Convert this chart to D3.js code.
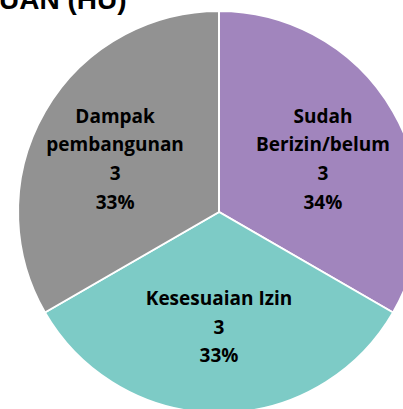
<!DOCTYPE html>
<html>
<head>
<meta charset="utf-8">
<script src="https://cdn.jsdelivr.net/npm/d3@7"></script>
<style>
  body { margin: 0; background: #fff; }
  svg { display: block; }
</style>
</head>
<body>
<div id="chart"></div>
<script>
const categories = ['Sudah Berizin/belum', 'Kesesuaian Izin', 'Dampak pembangunan']
const labelLines = [['Sudah', 'Berizin/belum'], ['Kesesuaian Izin'], ['Dampak', 'pembangunan']]
const values = [3, 3, 3]
const percents = ['34%', '33%', '33%']
const colors = ['#A185BD', '#7DCBC6', '#929292']

const W = 403, H = 409
const cx = 219, cy = 212, r = 201

const svg = d3.select('#chart').append('svg')
  .attr('width', W)
  .attr('height', H)

// title, mostly cut off at the top
svg.append('text')
  .attr('x', -1)
  .attr('y', 9)
  .attr('font-family', 'Liberation Sans, Arial, sans-serif')
  .attr('font-weight', 'bold')
  .attr('font-size', '28px')
  .attr('fill', '#000')
  .text('UAN (HU)')

const g = svg.append('g').attr('transform', `translate(${cx},${cy})`)

const pie = d3.pie().sort(null).value(d => d)
const arcs = pie(values)
const arc = d3.arc().innerRadius(0).outerRadius(r)
// unit arc, stretched a bit wider than tall for the label spots
const labelArc = d3.arc().innerRadius(1).outerRadius(1)

g.selectAll('path')
  .data(arcs)
  .join('path')
  .attr('d', arc)
  .attr('fill', (d, i) => colors[i])
  .attr('stroke', '#fff')
  .attr('stroke-width', 2)

const lh = 28.6
arcs.forEach((a, i) => {
  const lines = [...labelLines[i], String(values[i]), percents[i]]
  const [ux, uy] = labelArc.centroid(a)
  const lx = ux * 120, ly = uy * 112 + 3
  const top = ly - (lines.length - 1) * lh / 2
  const t = g.append('text')
    .attr('text-anchor', 'middle')
    .attr('font-family', 'Open Sans, sans-serif')
    .attr('font-weight', 'bold')
    .attr('font-size', '19px')
    .attr('fill', '#000')
  lines.forEach((line, j) => {
    t.append('tspan')
      .attr('x', lx)
      .attr('y', top + j * lh)
      .attr('dy', '0.35em')
      .text(line)
  })
})
</script>
</body>
</html>
